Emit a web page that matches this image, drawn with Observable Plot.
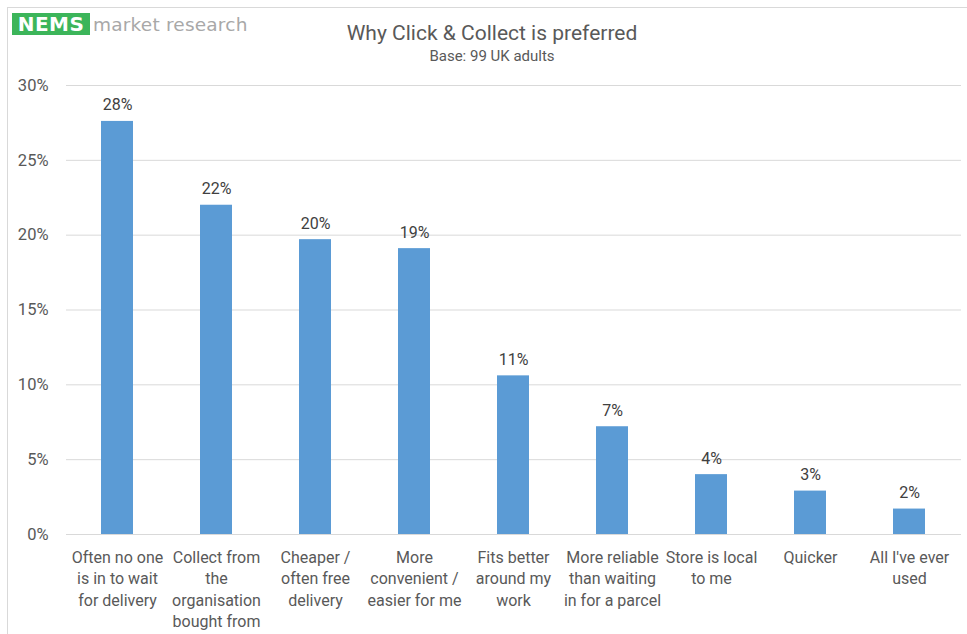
<!DOCTYPE html>
<html>
<head>
<meta charset="utf-8">
<script src="https://cdn.jsdelivr.net/npm/d3@7"></script>
<script src="https://cdn.jsdelivr.net/npm/@observablehq/plot@0.6"></script>
<style>
  html, body { margin: 0; padding: 0; background: #fff; }
  #wrap { position: relative; width: 967px; height: 634px; overflow: hidden; font-family: Roboto, "Open Sans", sans-serif; }
  #frame { position: absolute; left: 7px; top: 7px; width: 970px; height: 640px; border-top: 1px solid #d9d9d9; border-left: 1px solid #d9d9d9; }
  #logo { position: absolute; left: 12px; top: 13px; height: 22px; display: flex; align-items: center; }
  #logo .nems { background: #3cb55a; color: #fff; font-weight: bold; font-size: 20px; font-family: "DejaVu Sans", sans-serif; height: 22px; line-height: 22px; width: 78px; text-align: center; letter-spacing: 0.5px; }
  #logo .mr { color: #a8a8a8; font-size: 18.5px; font-family: "DejaVu Sans", sans-serif; margin-left: 3px; letter-spacing: 0.2px; }
  #title { position: absolute; left: 0; width: 984px; top: 20px; text-align: center; color: #595959; font-size: 21px; line-height: 26px; }
  #subtitle { position: absolute; left: 0; width: 984px; top: 48px; text-align: center; color: #595959; font-size: 15px; line-height: 17px; }
  #chart { position: absolute; left: 0; top: 0; }
</style>
</head>
<body>
<div id="wrap">
  <div id="frame"></div>
  <div id="chart"></div>
  <div id="logo"><span class="nems">NEMS</span><span class="mr">market research</span></div>
  <div id="title">Why Click &amp; Collect is preferred</div>
  <div id="subtitle">Base: 99 UK adults</div>
</div>
<script>
const categories = [
  "Often no one\nis in to wait\nfor delivery",
  "Collect from\nthe\norganisation\nbought from",
  "Cheaper /\noften free\ndelivery",
  "More\nconvenient /\neasier for me",
  "Fits better\naround my\nwork",
  "More reliable\nthan waiting\nin for a parcel",
  "Store is local\nto me",
  "Quicker",
  "All I've ever\nused"
];
const values = [27.6, 22.0, 19.7, 19.1, 10.6, 7.2, 4.0, 2.9, 1.7];
const valueLabels = ["28%", "22%", "20%", "19%", "11%", "7%", "4%", "3%", "2%"];
const yTicks = [0, 5, 10, 15, 20, 25, 30];

const data = categories.map((c, i) => ({category: c, value: values[i], label: valueLabels[i]}));

const chart = Plot.plot({
  width: 967,
  height: 634,
  marginTop: 85,
  marginBottom: 100,
  marginLeft: 66,
  marginRight: 6,
  style: {fontFamily: "Roboto, 'Open Sans', sans-serif", background: "transparent", overflow: "visible"},
  x: {domain: categories, paddingInner: 0.675, paddingOuter: 0.3375, label: null},
  y: {domain: [0, 30], label: null},
  marks: [
    Plot.gridY(yTicks, {stroke: "#d9d9d9", strokeOpacity: 1}),
    Plot.barY(data, {x: "category", y: "value", fill: "#5b9bd5"}),
    Plot.ruleY([0], {stroke: "#d9d9d9", strokeOpacity: 1}),
    Plot.text(data, {x: "category", y: "value", text: "label", dy: -11, lineAnchor: "bottom", fontSize: 16, fill: "#404040"}),
    Plot.axisY(yTicks, {tickSize: 0, tickPadding: 18, tickFormat: d => d + "%", fontSize: 16.5, color: "#595959", label: null}),
    Plot.axisX({tickSize: 0, tickPadding: 13, fontSize: 16, lineHeight: 1.34, color: "#595959", label: null})
  ]
});
document.getElementById("chart").appendChild(chart);
</script>
</body>
</html>
